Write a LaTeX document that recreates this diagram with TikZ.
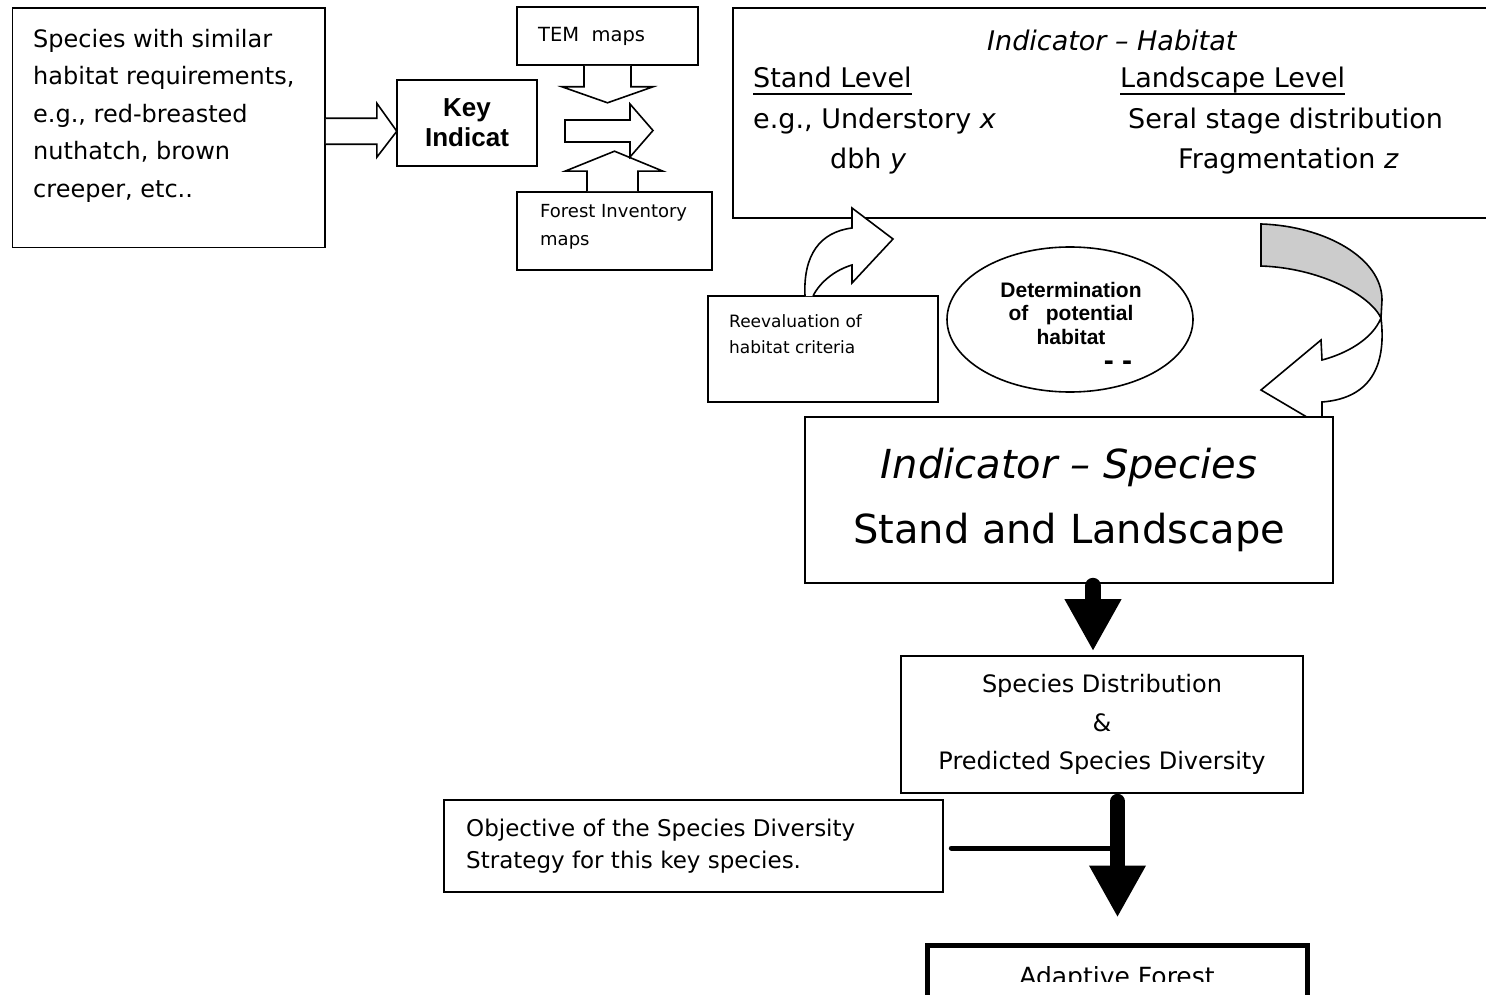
\documentclass[tikz,border=0pt]{standalone}
\usepackage{fontspec}
\setmainfont{DejaVu Sans}
\newfontfamily\arialfont{Liberation Sans}
\newcommand{\ulined}[1]{\setbox0=\hbox{#1}\copy0\llap{\rule[-6.75pt]{\wd0}{1.5pt}}}
\usetikzlibrary{arrows.meta,calc,shapes.geometric}

\begin{document}
\begin{tikzpicture}[x=1pt, y=-1pt,
  box/.style={draw, line width=1.6pt, fill=white, inner sep=0pt},
  txt/.style={inner sep=0pt, anchor=north west, align=left},
  btxt/.style={inner sep=0pt, anchor=base west},
  hollow/.style={draw, line width=1.6pt, fill=white, line join=miter},
  bigarrow/.style={line cap=round, -{Triangle[width=53pt,length=52pt]}}]
\useasboundingbox (0,0) rectangle (1486,995);
\clip (0,0) rectangle (1486,995);

% species group and key indicator
\node[box, minimum width=312.5pt, minimum height=239.5pt] (spbox) at (168.75,127.75) {};
\node[txt, font=\fontsize{24}{37.5}\selectfont] (sptext) at (33,28.8)
  {Species with similar\\habitat requirements,\\e.g., red-breasted\\nuthatch, brown\\creeper, etc..};
\node[box, minimum width=140pt, minimum height=86pt, align=center,
  font=\arialfont\bfseries\fontsize{26}{30}\selectfont] (keybox) at (467,123) {Key\\Indicat};
\draw[hollow] ($(spbox.east)+(0,-9.5)$) -- ++(51,0) -- ++(0,-15) -- ++(20,28)
  -- ++(-20,26) -- ++(0,-13) -- ++(-51,0);

% map inputs
\node[box, minimum width=181pt, minimum height=58pt] (tembox) at (607.5,36) {};
\node[btxt, font=\fontsize{19.5}{22}\selectfont] (temtext) at (538,42) {TEM~~maps};
\node[box, minimum width=195pt, minimum height=78pt] (fibox) at (614.5,231) {};
\node[txt, font=\fontsize{18}{28}\selectfont] (fitext) at (540,204.3) {Forest Inventory\\maps};
\draw[hollow] ($(tembox.south)+(-23.5,0)$) -- ++(0,21) -- ++(-22,0) -- ++(45.5,16)
  -- ++(45.5,-16) -- ++(-22,0) -- ++(0,-21);
\draw[hollow] ($(fibox.north)+(-27.5,0)$) -- ++(0,-20) -- ++(-22,0) -- ++(49.5,-20)
  -- ++(48.5,20) -- ++(-25,0) -- ++(0,20);
\draw[hollow] (565,120) -- (630,120) -- (630,104) -- (653,130.5) -- (630,157)
  -- (630,142) -- (565,142) -- cycle;

% indicator - habitat
\node[box, minimum width=762pt, minimum height=210pt] (habbox) at (1114,113) {};
\begin{scope}[every node/.style={btxt, font=\fontsize{27}{30}\selectfont}]
\node (habtitle) at (987,51) {\itshape Indicator – Habitat};
\node (stlev) at (753,88) {\ulined{Stand Level}};
\node (lslev) at (1120,88) {\ulined{Landscape Level}};
\node (stx) at (753,129) {e.g., Understory \textit{x}};
\node (lsx) at (1128,129) {Seral stage distribution};
\node (sty) at (830,169) {dbh \textit{y}};
\node (lsz) at (1178,169) {Fragmentation \textit{z}};
\end{scope}

% reevaluation loop
\node[box, minimum width=230pt, minimum height=106pt] (reebox) at (823,349) {};
\node[txt, font=\fontsize{17}{26}\selectfont] (reetext) at (729,314) {Reevaluation of\\habitat criteria};
\draw[hollow] (805,296) .. controls (803,255) and (820,232) .. (852,228) -- (852,208)
  -- (893,239) -- (852,283) -- (852,265) .. controls (835,270) and (820,282) .. (813,296);

\node[draw, ellipse, line width=1.6pt, minimum width=246pt, minimum height=145pt,
  inner sep=0pt] (detell) at (1070,319.5) {};
\node[align=center, inner sep=0pt, font=\arialfont\bfseries\fontsize{21}{23.5}\selectfont]
  (dettext) at (1071,313) {Determination\\of~~~potential\\habitat};
\node[inner sep=0pt, anchor=base, font=\arialfont\bfseries\fontsize{30}{30}\selectfont]
  (detdash) at (1118,370) {- -};

% turning arrow down to the species box
\filldraw[line width=1.6pt, fill=gray!40] (1261,224) .. controls (1325,226) and (1382,258) .. (1382,300)
  -- (1381,318) .. controls (1370,295) and (1320,268) .. (1261,266) -- cycle;
\draw[hollow] (1381,318) .. controls (1386,360) and (1375,398) .. (1322,402) -- (1322,426)
  -- (1261,390) -- (1321,340) -- (1322,360) .. controls (1345,354) and (1372,340) .. (1381,318);

\node[box, minimum width=528pt, minimum height=166pt, align=center,
  font=\fontsize{40}{65}\selectfont] (ispbox) at (1069,500)
  {\textit{Indicator – Species}\\Stand and Landscape};

\node[box, minimum width=402pt, minimum height=137pt, align=center,
  font=\fontsize{24}{38.5}\selectfont] (sdbox) at (1102,724.5)
  {Species Distribution\\\&\\Predicted Species Diversity};

\node[box, minimum width=499pt, minimum height=92pt] (objbox) at (693.5,846) {};
\node[txt, font=\fontsize{23}{32}\selectfont] (objtext) at (466,818.5)
  {Objective of the Species Diversity\\Strategy for this key species.};

\node[box, line width=5pt, minimum width=380pt, minimum height=109pt] (adbox) at (1117.5,1000) {};
\begin{scope}
\clip (930,948) rectangle (1305,981);
\node[inner sep=0pt, anchor=base, font=\fontsize{25}{30}\selectfont] (adtext) at (1117,985) {Adaptive Forest};
\end{scope}

% main flow
\coordinate (ax1) at (1093,0);
\coordinate (ax2) at (1117.5,0);
\draw[bigarrow, line width=16pt, shorten >=4pt] ($(ispbox.south -| ax1)+(0,2)$) -- (sdbox.north -| ax1);
\draw[bigarrow, line width=15pt, shorten >=25.5pt] ($(sdbox.south -| ax2)+(0,7.5)$) -- (adbox.north -| ax2);
\draw[line width=5pt, line cap=round] ($(objbox.east)+(7.5,2)$) -- ++(160,0);
\end{tikzpicture}
\end{document}
